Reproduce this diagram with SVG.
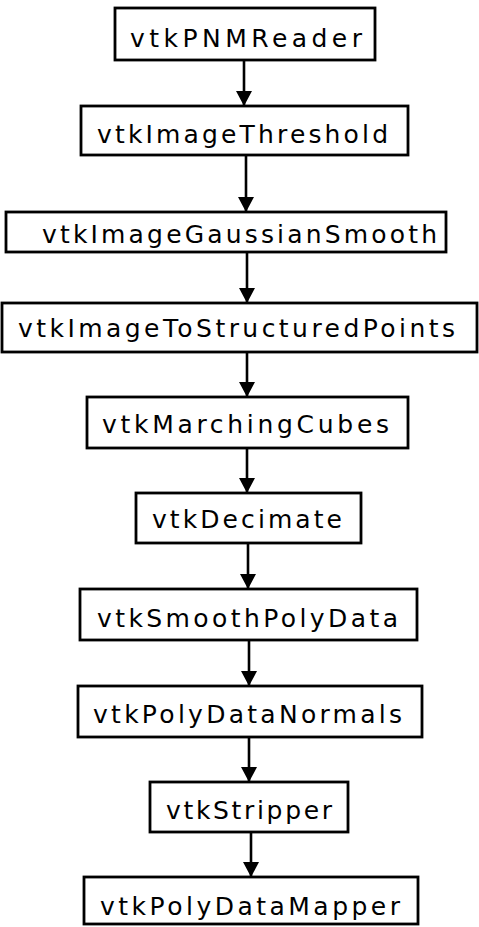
<svg xmlns="http://www.w3.org/2000/svg" width="479" height="927" viewBox="0 0 479 927">
<style>
.box{fill:#fff;stroke:#000;stroke-width:2.8}
.lbl{font-family:"DejaVu Sans","Liberation Sans",sans-serif;font-size:25px;fill:#000}
.edge{stroke:#000;stroke-width:2.6;fill:none}
</style>
<defs>
<marker id="ah" markerUnits="userSpaceOnUse" markerWidth="18" markerHeight="18" refX="15" refY="9" orient="auto">
<path d="M0,1 L15,9 L0,17 Z" fill="#000"/>
</marker>
</defs>
<rect width="479" height="927" fill="#fff"/>
<g id="connectors">
<line class="edge" x1="244" y1="60" x2="244" y2="106" marker-end="url(#ah)"/>
<line class="edge" x1="246" y1="155" x2="246" y2="212" marker-end="url(#ah)"/>
<line class="edge" x1="247" y1="252" x2="247" y2="303" marker-end="url(#ah)"/>
<line class="edge" x1="247" y1="352" x2="247" y2="397" marker-end="url(#ah)"/>
<line class="edge" x1="247" y1="448" x2="247" y2="493" marker-end="url(#ah)"/>
<line class="edge" x1="248" y1="543" x2="248" y2="589" marker-end="url(#ah)"/>
<line class="edge" x1="249" y1="640" x2="249" y2="686" marker-end="url(#ah)"/>
<line class="edge" x1="249" y1="737" x2="249" y2="782" marker-end="url(#ah)"/>
<line class="edge" x1="251" y1="832" x2="251" y2="877" marker-end="url(#ah)"/>
</g>
<g id="n1"><rect class="box" x="115" y="8" width="260" height="52"/><text class="lbl" x="130" y="47" textLength="232" lengthAdjust="spacing">vtkPNMReader</text></g>
<g id="n2"><rect class="box" x="81" y="106" width="327" height="49"/><text class="lbl" x="97" y="143" textLength="291" lengthAdjust="spacing">vtkImageThreshold</text></g>
<g id="n3"><rect class="box" x="6" y="212" width="440" height="40"/><text class="lbl" x="42" y="243" textLength="395" lengthAdjust="spacing">vtkImageGaussianSmooth</text></g>
<g id="n4"><rect class="box" x="2" y="303" width="475" height="49"/><text class="lbl" x="18" y="337" textLength="437" lengthAdjust="spacing">vtkImageToStructuredPoints</text></g>
<g id="n5"><rect class="box" x="87" y="397" width="321" height="51"/><text class="lbl" x="102" y="433" textLength="287" lengthAdjust="spacing">vtkMarchingCubes</text></g>
<g id="n6"><rect class="box" x="136" y="493" width="225" height="50"/><text class="lbl" x="152" y="528" textLength="190" lengthAdjust="spacing">vtkDecimate</text></g>
<g id="n7"><rect class="box" x="80" y="589" width="337" height="51"/><text class="lbl" x="97" y="627" textLength="301" lengthAdjust="spacing">vtkSmoothPolyData</text></g>
<g id="n8"><rect class="box" x="78" y="686" width="344" height="51"/><text class="lbl" x="93" y="723" textLength="309" lengthAdjust="spacing">vtkPolyDataNormals</text></g>
<g id="n9"><rect class="box" x="150" y="782" width="198" height="50"/><text class="lbl" x="166" y="819" textLength="166" lengthAdjust="spacing">vtkStripper</text></g>
<g id="n10"><rect class="box" x="84" y="877" width="334" height="47"/><text class="lbl" x="100" y="915" textLength="300" lengthAdjust="spacing">vtkPolyDataMapper</text></g>
</svg>
